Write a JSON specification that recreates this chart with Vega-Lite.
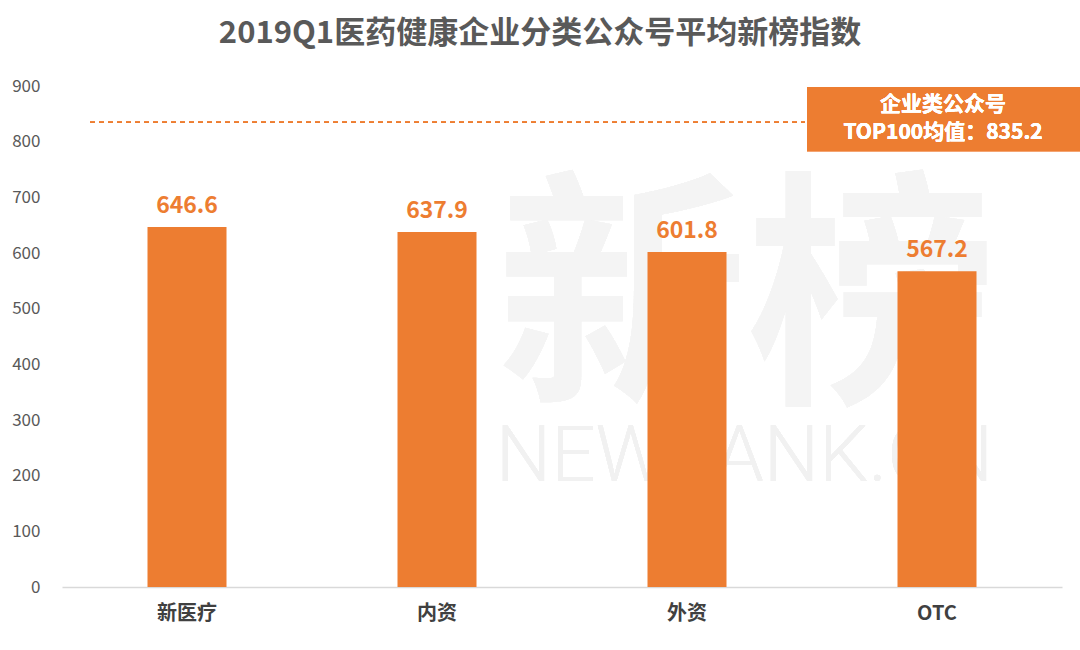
{
  "$schema": "https://vega.github.io/schema/vega-lite/v6.json",
  "width": 1000,
  "height": 501,
  "autosize": "none",
  "padding": {"left": 62, "top": 86, "right": 18, "bottom": 63},
  "background": "white",
  "config": {"view": {"stroke": null}, "font": "Noto Sans CJK SC"},
  "title": {
    "text": "2019Q1医药健康企业分类公众号平均新榜指数",
    "fontSize": 31,
    "fontWeight": "bold",
    "color": "#595959",
    "anchor": "middle",
    "dx": -22,
    "offset": 27,
    "font": "Noto Sans CJK SC"
  },
  "data": {
    "values": [
      {"category": "新医疗", "value": 646.6},
      {"category": "内资", "value": 637.9},
      {"category": "外资", "value": 601.8},
      {"category": "OTC", "value": 567.2}
    ]
  },
  "encoding": {
    "x": {
      "field": "category",
      "type": "nominal",
      "sort": null,
      "scale": {"domain": ["新医疗", "内资", "外资", "OTC"], "paddingInner": 0, "paddingOuter": 0},
      "axis": {
        "title": null,
        "labelAngle": 0,
        "labelFontSize": 20,
        "labelFontWeight": "bold",
        "labelColor": "#404040",
        "labelPadding": 16,
        "ticks": false,
        "domainColor": "#d9d9d9",
        "domainWidth": 1.5
      }
    },
    "y": {
      "field": "value",
      "type": "quantitative",
      "scale": {"domain": [0, 900]},
      "axis": {
        "title": null,
        "values": [0, 100, 200, 300, 400, 500, 600, 700, 800, 900],
        "grid": false,
        "domain": false,
        "ticks": false,
        "labelFontSize": 17,
        "labelColor": "#595959",
        "labelPadding": 22
      }
    }
  },
  "layer": [
    {
      "mark": {"type": "text", "fontSize": 250, "fontWeight": "bold", "color": "#f4f4f4", "baseline": "middle", "align": "center"},
      "encoding": {
        "x": {"datum": "外资", "bandPosition": 0.74},
        "y": {"datum": 500},
        "text": {"value": "新榜"}
      }
    },
    {
      "mark": {"type": "text", "fontSize": 78, "fontWeight": 300, "font": "Roboto", "color": "#f1f1f1", "baseline": "middle", "align": "center"},
      "encoding": {
        "x": {"datum": "外资", "bandPosition": 0.73},
        "y": {"datum": 232},
        "text": {"value": "NEWRANK.CN"}
      }
    },
    {
      "mark": {"type": "bar", "width": 79, "color": "#ED7D31"}
    },
    {
      "mark": {"type": "text", "fontSize": 23, "fontWeight": "bold", "color": "#ED7D31", "baseline": "bottom", "dy": -9},
      "encoding": {"text": {"field": "value", "type": "quantitative", "format": ".1f"}}
    },
    {
      "mark": {"type": "rule", "color": "#ED7D31", "strokeWidth": 1.3, "strokeDash": [5, 4]},
      "encoding": {
        "x": {"datum": "新医疗", "bandPosition": 0.112},
        "x2": {"datum": "外资", "bandPosition": 0.972},
        "y": {"datum": 835.2}
      }
    },
    {
      "mark": {"type": "rect", "color": "#ED7D31", "clip": false},
      "encoding": {
        "x": {"datum": "外资", "bandPosition": 0.98},
        "x2": {"datum": "OTC", "bandPosition": 1.072},
        "y": {"datum": 898},
        "y2": {"datum": 783}
      }
    },
    {
      "mark": {"type": "text", "fontSize": 21, "fontWeight": "bold", "color": "white", "align": "center", "baseline": "middle", "lineBreak": "\n", "lineHeight": 28},
      "encoding": {
        "x": {"datum": "OTC", "bandPosition": 0.524},
        "y": {"datum": 865},
        "text": {"value": "企业类公众号\nTOP100均值：835.2"}
      }
    }
  ]
}
